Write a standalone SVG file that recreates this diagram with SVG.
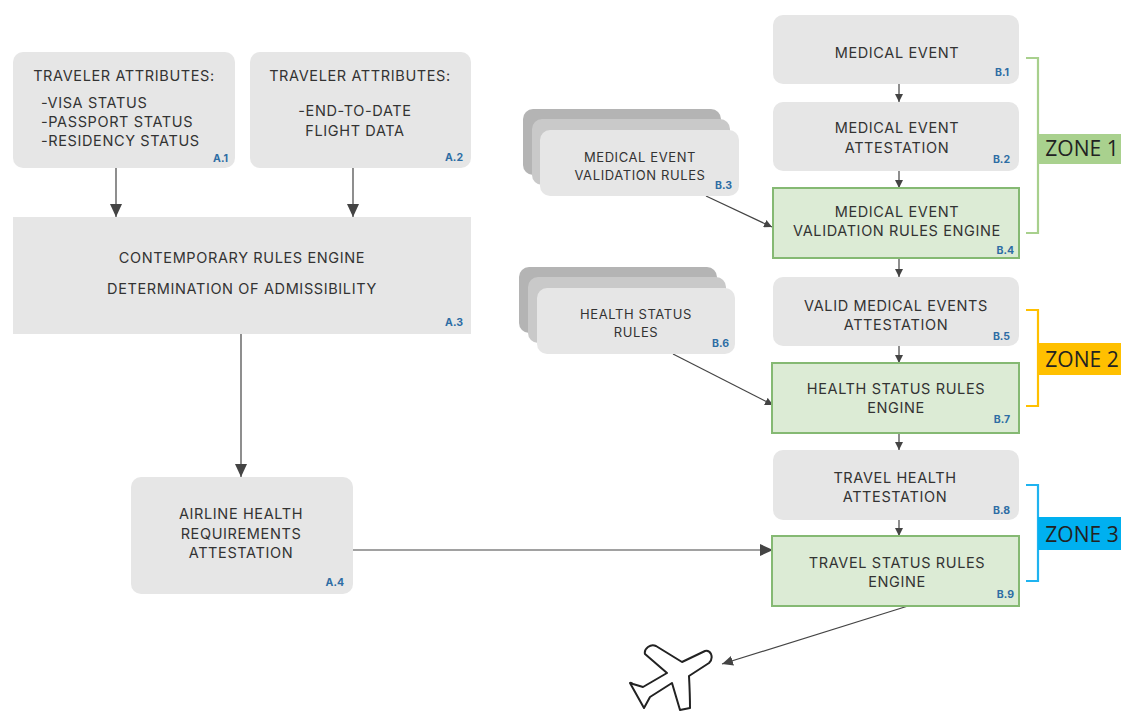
<svg xmlns="http://www.w3.org/2000/svg" width="1121" height="711" viewBox="0 0 1121 711">
<style>
text{font-family:"Inter","Open Sans","Liberation Sans",sans-serif}
.g{fill:#e6e6e6}
.e{fill:#dcebd5;stroke:#85b973;stroke-width:2}
.b1{fill:#b4b4b4}.b2{fill:#c9c9c9}
.t{font-size:14.5px;letter-spacing:.62px;fill:#333;text-anchor:middle}
.l{text-anchor:start}
.s{font-size:13px;letter-spacing:.6px}
.r{font-size:10.5px;font-weight:700;fill:#2e6da4;text-anchor:end}
.z{font-size:21px;fill:#222;font-family:"Open Sans","Liberation Sans",sans-serif;text-anchor:middle}
.c{fill:none;stroke:#444;stroke-width:1.2}
.br{fill:none;stroke-width:2.2}
</style>
<defs>
<marker id="big" markerUnits="userSpaceOnUse" markerWidth="14" markerHeight="12" refX="13" refY="6" orient="auto"><path d="M0 0L13 6L0 12Z" fill="#444"/></marker>
<marker id="mid" markerUnits="userSpaceOnUse" markerWidth="12" markerHeight="10" refX="11" refY="5" orient="auto"><path d="M0 0L11 5L0 10Z" fill="#444"/></marker>
<marker id="sm" markerUnits="userSpaceOnUse" markerWidth="9" markerHeight="8" refX="8" refY="4" orient="auto"><path d="M0 0L8 4L0 8Z" fill="#444"/></marker>
</defs>
<g id="connectors">
<path class="c" marker-end="url(#big)" d="M116 168V217"/>
<path class="c" marker-end="url(#big)" d="M353 168V217"/>
<path class="c" marker-end="url(#big)" d="M241 334V477"/>
<path class="c" marker-end="url(#big)" d="M353 550H773"/>
<path class="c" marker-end="url(#sm)" d="M899 84V102"/>
<path class="c" marker-end="url(#sm)" d="M899 171V188"/>
<path class="c" marker-end="url(#sm)" d="M899 258V277"/>
<path class="c" marker-end="url(#sm)" d="M899 346V363"/>
<path class="c" marker-end="url(#sm)" d="M899 433V450"/>
<path class="c" marker-end="url(#sm)" d="M899 520V536"/>
<path class="c" marker-end="url(#sm)" d="M706 196L772 227"/>
<path class="c" marker-end="url(#sm)" d="M673 354L773 405"/>
<path class="c" marker-end="url(#mid)" d="M908 606L722 664"/>
</g>
<g id="A1"><rect class="g" x="13" y="52" width="222" height="116" rx="10"/>
<text class="t" x="124" y="81">TRAVELER ATTRIBUTES:</text>
<text class="t l" x="41" y="108">-VISA STATUS</text><text class="t l" x="41" y="127">-PASSPORT STATUS</text><text class="t l" x="41" y="146">-RESIDENCY STATUS</text>
<text class="r" x="228" y="162">A.1</text></g>
<g id="A2"><rect class="g" x="250" y="52" width="221" height="116" rx="10"/>
<text class="t" x="360" y="81">TRAVELER ATTRIBUTES:</text>
<text class="t" x="355" y="116">-END-TO-DATE</text><text class="t" x="355" y="136">FLIGHT DATA</text>
<text class="r" x="463" y="161">A.2</text></g>
<g id="A3"><rect class="g" x="13" y="217" width="458" height="117"/>
<text class="t" x="242" y="263">CONTEMPORARY RULES ENGINE</text><text class="t" x="242" y="294">DETERMINATION OF ADMISSIBILITY</text>
<text class="r" x="463" y="326">A.3</text></g>
<g id="A4"><rect class="g" x="131" y="477" width="222" height="117" rx="10"/>
<text class="t" x="241" y="519">AIRLINE HEALTH</text><text class="t" x="241" y="539">REQUIREMENTS</text><text class="t" x="241" y="558">ATTESTATION</text>
<text class="r" x="344" y="586">A.4</text></g>
<g id="B1"><rect class="g" x="773" y="15" width="246" height="69" rx="10"/>
<text class="t" x="897" y="58">MEDICAL EVENT</text><text class="r" x="1009" y="76">B.1</text></g>
<g id="B2"><rect class="g" x="773" y="102" width="246" height="69" rx="10"/>
<text class="t" x="897" y="133">MEDICAL EVENT</text><text class="t" x="897" y="153">ATTESTATION</text><text class="r" x="1010" y="163">B.2</text></g>
<g id="B3"><rect class="b1" x="523" y="109" width="198" height="66" rx="10"/><rect class="b2" x="532" y="119" width="198" height="66" rx="10"/><rect class="g" x="540" y="130" width="199" height="66" rx="10"/>
<text class="t s" x="640" y="162">MEDICAL EVENT</text><text class="t s" x="640" y="180">VALIDATION RULES</text><text class="r" x="732" y="189">B.3</text></g>
<g id="B4"><rect class="e" x="773" y="188" width="246" height="70"/>
<text class="t" x="897" y="217">MEDICAL EVENT</text><text class="t" x="897" y="236">VALIDATION RULES ENGINE</text><text class="r" x="1014" y="254">B.4</text></g>
<g id="B5"><rect class="g" x="773" y="277" width="246" height="69" rx="10"/>
<text class="t" x="896" y="311">VALID MEDICAL EVENTS</text><text class="t" x="896" y="330">ATTESTATION</text><text class="r" x="1010" y="340">B.5</text></g>
<g id="B6"><rect class="b1" x="519" y="267" width="198" height="66" rx="10"/><rect class="b2" x="528" y="277" width="198" height="66" rx="10"/><rect class="g" x="537" y="288" width="198" height="66" rx="10"/>
<text class="t s" x="636" y="319">HEALTH STATUS</text><text class="t s" x="636" y="337">RULES</text><text class="r" x="729" y="347">B.6</text></g>
<g id="B7"><rect class="e" x="772" y="363" width="247" height="70"/>
<text class="t" x="896" y="394">HEALTH STATUS RULES</text><text class="t" x="896" y="413">ENGINE</text><text class="r" x="1010" y="423">B.7</text></g>
<g id="B8"><rect class="g" x="773" y="450" width="246" height="70" rx="10"/>
<text class="t" x="895" y="483">TRAVEL HEALTH</text><text class="t" x="895" y="502">ATTESTATION</text><text class="r" x="1010" y="514">B.8</text></g>
<g id="B9"><rect class="e" x="772" y="536" width="247" height="70"/>
<text class="t" x="897" y="568">TRAVEL STATUS RULES</text><text class="t" x="897" y="587">ENGINE</text><text class="r" x="1014" y="598">B.9</text></g>
<g id="Z1"><path class="br" stroke="#a8d08d" d="M1026 58H1038V233H1026"/><rect x="1038" y="134" width="83" height="30" fill="#a9d18e"/><text class="z" x="1082" y="156">ZONE 1</text></g>
<g id="Z2"><path class="br" stroke="#ffc000" d="M1026 310H1038V406H1026"/><rect x="1038" y="343" width="83" height="32" fill="#ffc000"/><text class="z" x="1082" y="367">ZONE 2</text></g>
<g id="Z3"><path class="br" stroke="#1fb3f0" d="M1026 485H1038V581H1026"/><rect x="1038" y="517" width="83" height="33" fill="#00b0f0"/><text class="z" x="1082" y="542">ZONE 3</text></g>
<g id="plane"><path d="M705 651Q709 650 711 654Q713 659 709 663L689 676Q690 695 690 708L680 710L672 683L650 697L644 708L630 683Q631 682 633 684L643 687L667 673L645 654Q644 650 648 647Q652 644 656 646L682 662Z" fill="#fff" stroke="#222" stroke-width="2" stroke-linejoin="round"/></g>
</svg>
